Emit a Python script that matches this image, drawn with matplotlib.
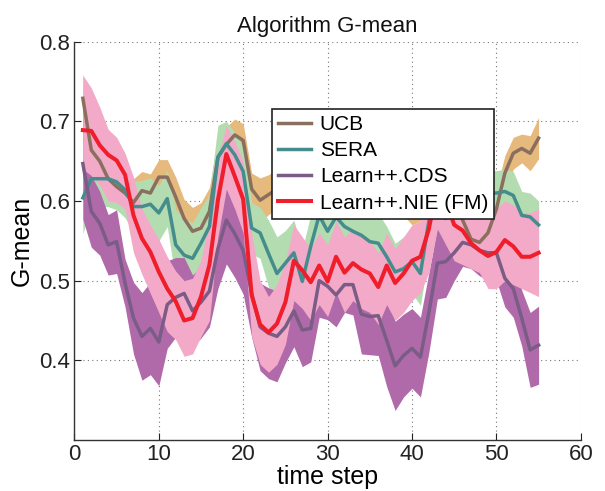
import matplotlib
matplotlib.use("Agg")
import matplotlib.pyplot as plt
import numpy as np

plt.rcParams["font.family"] = ["Liberation Sans", "DejaVu Sans"]

steps = list(range(1, 56))

ucb_mean = [0.729, 0.664, 0.650, 0.628, 0.618, 0.610, 0.598, 0.613, 0.610, 0.630,
            0.630, 0.605, 0.578, 0.562, 0.566, 0.587, 0.655, 0.671, 0.683, 0.676,
            0.615, 0.601, 0.608, 0.615, 0.620, 0.625, 0.615, 0.620, 0.625, 0.620,
            0.625, 0.620, 0.615, 0.610, 0.615, 0.620, 0.610, 0.605, 0.610, 0.600,
            0.605, 0.610, 0.605, 0.600, 0.600, 0.576, 0.552, 0.548, 0.560, 0.590,
            0.635, 0.660, 0.666, 0.660, 0.679]
ucb_spread = [0.030, 0.028, 0.028, 0.028, 0.027, 0.027, 0.030, 0.024, 0.024, 0.022,
              0.022, 0.025, 0.024, 0.030, 0.032, 0.030, 0.025, 0.022, 0.020, 0.021,
              0.020, 0.028, 0.025, 0.025, 0.025, 0.025, 0.025, 0.025, 0.025, 0.025,
              0.025, 0.025, 0.025, 0.025, 0.025, 0.025, 0.025, 0.025, 0.028, 0.030,
              0.030, 0.028, 0.025, 0.025, 0.025, 0.025, 0.025, 0.025, 0.025, 0.025,
              0.022, 0.020, 0.018, 0.022, 0.026]

sera_mean = [0.604, 0.628, 0.628, 0.628, 0.624, 0.614, 0.593, 0.593, 0.596, 0.585,
             0.603, 0.545, 0.532, 0.528, 0.547, 0.568, 0.655, 0.672, 0.658, 0.637,
             0.566, 0.560, 0.534, 0.509, 0.522, 0.535, 0.499, 0.543, 0.582, 0.562,
             0.580, 0.568, 0.562, 0.557, 0.549, 0.547, 0.530, 0.511, 0.515, 0.524,
             0.509, 0.575, 0.585, 0.578, 0.600, 0.612, 0.618, 0.615, 0.610, 0.610,
             0.612, 0.607, 0.582, 0.580, 0.570]
sera_spread = [0.045, 0.035, 0.035, 0.035, 0.035, 0.035, 0.032, 0.033, 0.033, 0.035,
               0.035, 0.045, 0.045, 0.045, 0.045, 0.040, 0.040, 0.028, 0.028, 0.030,
               0.032, 0.032, 0.042, 0.046, 0.041, 0.041, 0.040, 0.040, 0.040, 0.038,
               0.038, 0.038, 0.038, 0.038, 0.038, 0.038, 0.038, 0.036, 0.040, 0.040,
               0.040, 0.040, 0.040, 0.038, 0.035, 0.032, 0.032, 0.032, 0.030, 0.028,
               0.028, 0.030, 0.030, 0.030, 0.030]

cds_mean = [0.647, 0.587, 0.572, 0.545, 0.549, 0.497, 0.453, 0.430, 0.440, 0.423,
            0.470, 0.479, 0.484, 0.462, 0.473, 0.487, 0.540, 0.576, 0.559, 0.538,
            0.484, 0.442, 0.434, 0.430, 0.442, 0.462, 0.438, 0.440, 0.500, 0.493,
            0.482, 0.495, 0.495, 0.458, 0.455, 0.456, 0.425, 0.393, 0.406, 0.415,
            0.404, 0.460, 0.522, 0.524, 0.535, 0.548, 0.545, 0.538, 0.535, 0.535,
            0.503, 0.490, 0.453, 0.413, 0.419]
cds_spread = [0.070, 0.045, 0.040, 0.038, 0.040, 0.030, 0.045, 0.055, 0.058, 0.055,
              0.055, 0.050, 0.045, 0.045, 0.045, 0.045, 0.050, 0.055, 0.055, 0.055,
              0.055, 0.055, 0.057, 0.057, 0.045, 0.045, 0.046, 0.042, 0.046, 0.042,
              0.040, 0.035, 0.038, 0.050, 0.048, 0.050, 0.058, 0.056, 0.052, 0.050,
              0.050, 0.050, 0.045, 0.045, 0.035, 0.030, 0.030, 0.032, 0.034, 0.035,
              0.036, 0.036, 0.035, 0.047, 0.049]

nie_mean = [0.689, 0.688, 0.670, 0.658, 0.651, 0.633, 0.582, 0.553, 0.536, 0.511,
            0.490, 0.474, 0.450, 0.453, 0.480, 0.520, 0.601, 0.659, 0.631, 0.602,
            0.482, 0.445, 0.435, 0.446, 0.473, 0.525, 0.513, 0.498, 0.519, 0.499,
            0.530, 0.510, 0.522, 0.514, 0.509, 0.492, 0.519, 0.497, 0.509, 0.525,
            0.530, 0.565, 0.620, 0.600, 0.570, 0.563, 0.547, 0.538, 0.531, 0.536,
            0.551, 0.543, 0.530, 0.530, 0.535]
nie_upper = [0.758, 0.742, 0.718, 0.690, 0.680, 0.660, 0.630, 0.590, 0.570, 0.552,
             0.530, 0.512, 0.500, 0.503, 0.526, 0.580, 0.655, 0.695, 0.675, 0.650,
             0.560, 0.500, 0.480, 0.495, 0.525, 0.570, 0.555, 0.540, 0.560, 0.545,
             0.575, 0.555, 0.565, 0.555, 0.550, 0.535, 0.560, 0.540, 0.555, 0.570,
             0.575, 0.620, 0.665, 0.640, 0.625, 0.615, 0.600, 0.590, 0.585, 0.590,
             0.600, 0.595, 0.585, 0.585, 0.590]
nie_lower = [0.640, 0.632, 0.620, 0.600, 0.598, 0.590, 0.535, 0.508, 0.484, 0.460,
             0.436, 0.426, 0.405, 0.408, 0.430, 0.450, 0.555, 0.615, 0.590, 0.560,
             0.430, 0.395, 0.385, 0.395, 0.420, 0.475, 0.465, 0.450, 0.470, 0.455,
             0.485, 0.460, 0.475, 0.465, 0.460, 0.445, 0.470, 0.450, 0.460, 0.475,
             0.485, 0.510, 0.565, 0.545, 0.525, 0.520, 0.515, 0.510, 0.490, 0.490,
             0.500, 0.495, 0.490, 0.485, 0.480]

labels = ["UCB", "SERA", "Learn++.CDS", "Learn++.NIE (FM)"]
line_colors = ["#8a6f5e", "#458d8c", "#7a5c86", "#f01d2a"]
band_colors = ["#e6b97d", "#b4dcb1", "#b06aaa", "#f3aac9"]
line_widths = [2.5, 2.5, 2.5, 2.9]

x = np.array(steps)
bands = [
    (np.array(ucb_mean) - np.array(ucb_spread), np.array(ucb_mean) + np.array(ucb_spread)),
    (np.array(sera_mean) - np.array(sera_spread), np.array(sera_mean) + np.array(sera_spread)),
    (np.array(cds_mean) - np.array(cds_spread), np.array(cds_mean) + np.array(cds_spread)),
    (np.array(nie_lower), np.array(nie_upper)),
]
means = [ucb_mean, sera_mean, cds_mean, nie_mean]

fig = plt.figure(figsize=(6.05, 4.91), dpi=100)
ax = fig.add_axes([0.123, 0.104, 0.837, 0.811])

# bands first (pink ends up on top), lines afterwards
for (lo, hi), col in zip(bands, band_colors):
    ax.fill_between(x, lo, hi, color=col, linewidth=0, zorder=1)

handles = []
for m, col, lw, lab in zip(means, line_colors, line_widths, labels):
    h, = ax.plot(x, m, color=col, linewidth=lw, label=lab, zorder=3)
    handles.append(h)

ax.set_xlim(0, 60)
ax.set_ylim(0.3, 0.8)
ax.set_xticks([0, 10, 20, 30, 40, 50, 60])
ax.set_yticks([0.4, 0.5, 0.6, 0.7, 0.8])
ax.set_yticklabels(["0.4", "0.5", "0.6", "0.7", "0.8"])
ax.grid(True, linestyle=(0, (1, 3)), color="#777777", linewidth=0.8)
ax.set_axisbelow(True)
for side in ["top", "right"]:
    ax.spines[side].set_visible(False)
for side in ["left", "bottom"]:
    ax.spines[side].set_color("#333333")
    ax.spines[side].set_linewidth(1.0)
ax.tick_params(direction="in", length=5, labelsize=16, colors="#222222", pad=3)

ax.set_title("Algorithm G-mean", fontsize=16, color="#111111", pad=7)
ax.set_xlabel("time step", fontsize=18, labelpad=0)
ax.set_ylabel("G-mean", fontsize=18, labelpad=4)

leg = ax.legend(handles=handles, loc="upper left", bbox_to_anchor=(0.39, 0.832),
                borderaxespad=0, fontsize=15, frameon=True, fancybox=False,
                framealpha=1, edgecolor="#222222", handlelength=1.6,
                handletextpad=0.4, labelspacing=0.35, borderpad=0.3)
leg.get_frame().set_linewidth(1.2)
leg.set_zorder(5)

fig.savefig("out.png", dpi=100)
